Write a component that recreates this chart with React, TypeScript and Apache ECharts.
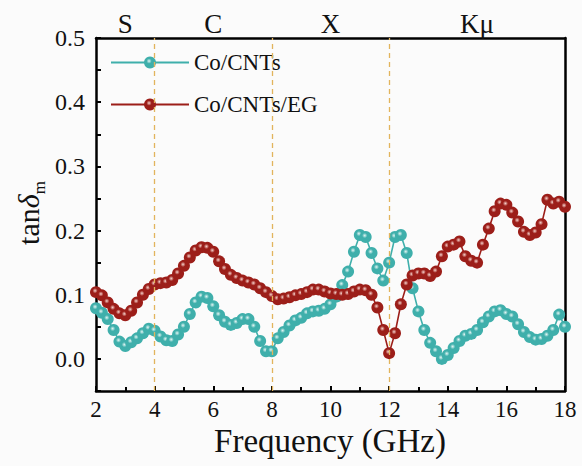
import React, { useEffect, useRef } from "react";
import * as echarts from "echarts";

// Frequency grid (GHz), 0.2 GHz sampling from 2 to 18
const freq: number[] = Array.from({ length: 81 }, (_, i) => +(2 + 0.2 * i).toFixed(1));

const cntVals: number[] = [
  0.079, 0.072, 0.062, 0.045, 0.027, 0.020, 0.026, 0.032, 0.040, 0.047,
  0.044, 0.035, 0.029, 0.028, 0.038, 0.050, 0.070, 0.088, 0.097, 0.095,
  0.082, 0.068, 0.058, 0.053, 0.056, 0.062, 0.062, 0.050, 0.028, 0.012,
  0.012, 0.032, 0.042, 0.052, 0.060, 0.064, 0.071, 0.074, 0.075, 0.078,
  0.085, 0.097, 0.115, 0.136, 0.167, 0.193, 0.190, 0.165, 0.141, 0.122,
  0.150, 0.190, 0.193, 0.165, 0.110, 0.074, 0.045, 0.025, 0.012, 0.000,
  0.006, 0.017, 0.028, 0.036, 0.039, 0.045, 0.057, 0.066, 0.074, 0.076,
  0.070, 0.066, 0.054, 0.042, 0.034, 0.030, 0.031, 0.036, 0.045, 0.069,
  0.050,
];

const egVals: number[] = [
  0.104, 0.099, 0.088, 0.078, 0.071, 0.068, 0.075, 0.088, 0.100, 0.109,
  0.116, 0.118, 0.119, 0.123, 0.133, 0.145, 0.158, 0.169, 0.174, 0.173,
  0.167, 0.152, 0.140, 0.131, 0.126, 0.122, 0.119, 0.116, 0.110, 0.104,
  0.098, 0.093, 0.094, 0.096, 0.099, 0.101, 0.104, 0.108, 0.108, 0.105,
  0.102, 0.101, 0.100, 0.101, 0.105, 0.108, 0.107, 0.100, 0.080, 0.045,
  0.009, 0.040, 0.085, 0.116, 0.130, 0.133, 0.133, 0.129, 0.136, 0.160,
  0.175, 0.178, 0.183, 0.160, 0.153, 0.150, 0.178, 0.203, 0.230, 0.242,
  0.240, 0.228, 0.214, 0.198, 0.193, 0.197, 0.210, 0.248, 0.242, 0.245,
  0.237,
];

const seriesNames = ["Co/CNTs", "Co/CNTs/EG"];
const bandEdges = [4, 8, 12];
const bandCenters = [3, 6, 10, 15];
const bandNames = ["S", "C", "X", "Kμ"];
const xTicks = [2, 4, 6, 8, 10, 12, 14, 16, 18];
const xTitle = "Frequency (GHz)";

const FONT = "'Liberation Serif', 'Times New Roman', Times, serif";
const INK = "#111";

function sphere(base: string, light: string) {
  return {
    type: "radial",
    x: 0.42,
    y: 0.38,
    r: 0.62,
    colorStops: [
      { offset: 0, color: light },
      { offset: 0.35, color: base },
      { offset: 1, color: base },
    ],
  };
}

const serif = (size: number, extra: Record<string, unknown> = {}) => ({
  fontFamily: FONT,
  fontSize: size,
  color: INK,
  ...extra,
});

export default function App() {
  const ref = useRef<HTMLDivElement>(null);
  useEffect(() => {
    if (!ref.current) return;
    const chart = echarts.init(ref.current, undefined, { renderer: "svg" });
    const axisLineStyle = { color: "#000", width: 2.5 };
    chart.setOption({
      animation: false,
      backgroundColor: "#fbfbfb",
      textStyle: { fontFamily: FONT, color: INK },
      grid: { left: 96, right: 17, top: 38, bottom: 75, containLabel: false },
      legend: {
        data: seriesNames,
        orient: "vertical",
        left: 105,
        top: 46,
        itemWidth: 78,
        itemHeight: 15,
        itemGap: 19,
        textStyle: serif(23),
      },
      graphic: [
        {
          type: "text",
          x: 330,
          y: 441,
          style: {
            text: xTitle,
            fontFamily: FONT,
            fontSize: 33,
            fill: INK,
            align: "center",
            verticalAlign: "middle",
          },
        },
        {
          type: "text",
          x: 28,
          y: 213,
          rotation: Math.PI / 2,
          style: {
            text: "{t|tan}{d|δ}{s|m}",
            fontFamily: FONT,
            fontSize: 30,
            fill: INK,
            align: "center",
            verticalAlign: "middle",
            rich: {
              t: { fontFamily: FONT, fontSize: 30, fill: INK, lineHeight: 30, verticalAlign: "top" },
              d: { fontFamily: FONT, fontSize: 30, fontStyle: "italic", fill: INK, lineHeight: 30, verticalAlign: "top" },
              s: { fontFamily: FONT, fontSize: 17, fill: INK, lineHeight: 17, padding: [18, 0, 0, 0], verticalAlign: "top" },
            },
          },
        },
      ],
      xAxis: [
        {
          type: "value",
          min: 2,
          max: 18,
          interval: 2,
          position: "bottom",
          axisLine: { show: true, onZero: false, lineStyle: axisLineStyle },
          axisTick: { show: true, inside: true, length: 5, lineStyle: { width: 2, color: "#000" } },
          minorTick: { show: true, splitNumber: 2, length: 4, lineStyle: { width: 2, color: "#000" } },
          axisLabel: {
            ...serif(23),
            margin: 7,
            customValues: xTicks,
          },
          splitLine: { show: false },
        },
        {
          type: "value",
          min: 2,
          max: 18,
          position: "top",
          axisLine: { show: true, onZero: false, lineStyle: axisLineStyle },
          axisTick: { show: false },
          splitLine: { show: false },
          axisLabel: {
            show: true,
            customValues: bandCenters,
            ...serif(27),
            margin: 1,
            formatter: (v: number) => {
              const i = bandCenters.indexOf(v);
              return i >= 0 ? bandNames[i] : "";
            },
          },
        },
      ],
      yAxis: [
        {
          type: "value",
          min: -0.05,
          max: 0.5,
          interval: 0.05,
          position: "left",
          axisLine: { show: true, onZero: false, lineStyle: axisLineStyle },
          axisTick: { show: true, inside: true, length: 5, lineStyle: { width: 2, color: "#000" } },
          axisLabel: {
            ...serif(24),
            margin: 11,
            formatter: (v: number) => {
              const k = Math.round(v * 20);
              return k % 2 === 0 ? (k / 20).toFixed(1) : "";
            },
          },
          splitLine: { show: false },
        },
        {
          type: "value",
          min: -0.05,
          max: 0.5,
          position: "right",
          axisLine: { show: true, onZero: false, lineStyle: axisLineStyle },
          axisTick: { show: false },
          axisLabel: { show: false },
          splitLine: { show: false },
        },
      ],
      series: [
        {
          name: seriesNames[0],
          type: "line",
          xAxisIndex: 0,
          yAxisIndex: 0,
          data: freq.map((f, i) => [f, cntVals[i]]),
          symbol: "circle",
          symbolSize: 12,
          lineStyle: { color: "#3fafab", width: 1.6 },
          itemStyle: { color: sphere("#3fafab", "#e4f6f4") },
          z: 2,
          markLine: {
            silent: true,
            symbol: ["none", "none"],
            label: { show: false },
            lineStyle: { type: [5, 4], color: "#e2b45c", width: 1.3 },
            data: bandEdges.map((v) => ({ xAxis: v })),
          },
        },
        {
          name: seriesNames[1],
          type: "line",
          xAxisIndex: 0,
          yAxisIndex: 0,
          data: freq.map((f, i) => [f, egVals[i]]),
          symbol: "circle",
          symbolSize: 12,
          lineStyle: { color: "#9c1e19", width: 1.6 },
          itemStyle: { color: sphere("#9c1e19", "#f5d2cc") },
          z: 3,
        },
      ],
    });
    return () => chart.dispose();
  }, []);
  return (
    <div
      ref={ref}
      style={{ position: "fixed", left: 0, top: 0, width: 582, height: 466 }}
    />
  );
}
